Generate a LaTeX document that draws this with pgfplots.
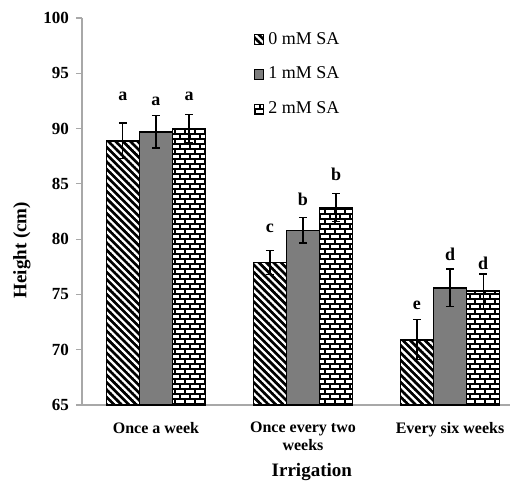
\documentclass[border=0pt]{standalone}
\usepackage{fontspec}
\setmainfont{Liberation Serif}
\usepackage{pgfplots}
\pgfplotsset{compat=1.18}
\usetikzlibrary{patterns.meta}

\tikzdeclarepattern{
  name=diagstripes,
  type=uncolored,
  bounding box={(-0.1pt,-0.8pt) and (2.7pt,0.8pt)},
  tile size={(2.6pt,2.6pt)},
  tile transformation={rotate=-45},
  code={\draw[line width=1.35pt] (-0.1pt,0) -- (2.7pt,0);}
}
\tikzdeclarepattern{
  name=smallbricks,
  type=uncolored,
  bounding box={(-0.5pt,-0.5pt) and (5.5pt,5.5pt)},
  tile size={(5pt,5pt)},
  code={
    \draw[line width=0.9pt]
      (-0.5pt,0) -- (5.5pt,0)
      (-0.5pt,2.5pt) -- (5.5pt,2.5pt)
      (0,0) -- (0,2.5pt)
      (5pt,0) -- (5pt,2.5pt)
      (2.5pt,2.5pt) -- (2.5pt,5pt);
  }
}

\definecolor{bargray}{HTML}{7D7D7D}
\definecolor{axgray}{HTML}{A8A8A8}

% heights (cm) and standard errors
\pgfplotstableread{
x y e
0 88.9 1.6
1 77.9 1.1
2 70.9 1.8
}\zeromM
\pgfplotstableread{
x y e
0 89.7 1.45
1 80.8 1.15
2 75.6 1.7
}\onemM
\pgfplotstableread{
x y e
0 90.0 1.3
1 82.85 1.25
2 75.3 1.55
}\twomM

\begin{document}
\begin{tikzpicture}
\begin{axis}[
  at={(0,0)}, anchor=south west,
  scale only axis,
  width=214pt, height=193.5pt,
  ybar, bar width=0.225,
  xmin=-0.503, xmax=2.408,
  ymin=65, ymax=100,
  ytick={65,70,...,100},
  xtick=data,
  xticklabels={Once a week, {Once every two\\weeks}, Every six weeks},
  x tick label style={font=\fontsize{8}{9}\selectfont\bfseries, align=center, anchor=north, yshift=-2pt},
  y tick label style={font=\fontsize{8.5}{10}\selectfont\bfseries},
  /pgf/number format/assume math mode=true,
  xtick style={draw=none},
  ytick style={axgray, line width=0.6pt},
  major tick length=3pt,
  tick align=outside,
  axis lines*=left,
  axis line style={axgray, line width=0.8pt},
  xlabel={Irrigation},
  ylabel={Height (cm)},
  xlabel style={font=\fontsize{9.5}{11}\selectfont\bfseries, at={(axis description cs:0.537,0)}, anchor=center, yshift=-33.5pt},
  ylabel style={font=\fontsize{9.5}{11}\selectfont\bfseries, at={(axis description cs:0,0.40)}, anchor=center, rotate=0, yshift=30pt},
  legend style={at={(0.40,0.975)}, anchor=north west, draw=none, fill=none,
    font=\fontsize{9}{10}\selectfont, row sep=6pt, inner sep=0pt},
  legend cell align=left,
  legend image code/.code={\draw[#1, line width=0.6pt] (0pt,-2.4pt) rectangle (4.8pt,2.4pt);},
  error bars/y dir=both,
  error bars/y explicit,
  error bars/error bar style={black, line width=0.6pt},
  error bars/error mark options={rotate=90, mark size=2pt, black, line width=0.6pt},
]
\addplot[draw=black, line width=0.8pt, pattern=diagstripes, pattern color=black, bar shift=-0.225]
  table[x=x, y=y, y error=e] {\zeromM};
\addplot[draw=black, line width=0.8pt, fill=bargray, bar shift=0]
  table[x=x, y=y, y error=e] {\onemM};
\addplot[draw=black, line width=0.8pt, pattern=smallbricks, pattern color=black, bar shift=0.225]
  table[x=x, y=y, y error=e] {\twomM};
\legend{0 mM SA, 1 mM SA, 2 mM SA}

\begin{scope}[every node/.style={font=\fontsize{9}{10}\selectfont\bfseries}]
\node at (axis cs:-0.225,92.9) {a};
\node at (axis cs:0,92.45) {a};
\node at (axis cs:0.225,92.9) {a};
\node at (axis cs:0.775,81.0) {c};
\node at (axis cs:1,83.6) {b};
\node at (axis cs:1.225,85.9) {b};
\node at (axis cs:1.775,74.0) {e};
\node at (axis cs:2,78.6) {d};
\node at (axis cs:2.225,77.8) {d};
\end{scope}
\end{axis}
\path[use as bounding box] (-41pt,-42pt) rectangle (215pt,202.5pt);
\end{tikzpicture}
\end{document}
